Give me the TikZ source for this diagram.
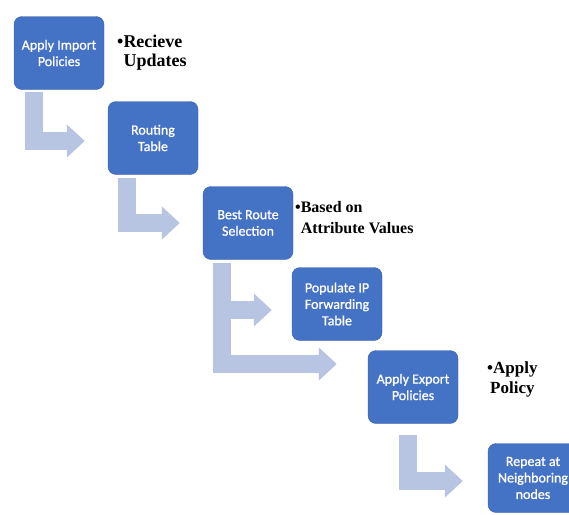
\documentclass[tikz,border=0pt]{standalone}
\usepackage{fontspec}
\setmainfont{Liberation Serif}
\newfontfamily\boxfont[FakeBold=1]{Carlito}
\usetikzlibrary{arrows.meta}

\definecolor{boxblue}{RGB}{68,114,196}
\definecolor{boxedge}{RGB}{58,98,172}
\definecolor{flowgray}{RGB}{184,197,226}

\tikzset{
  stage/.style={draw=boxedge, fill=boxblue, rounded corners=8pt,
    minimum width=90pt, minimum height=73pt, inner sep=2pt,
    text=white, align=center, font=\boxfont\fontsize{14}{16.5}\selectfont},
  flow/.style={draw=flowgray, line width=18pt,
    -{Triangle[width=32pt,length=18pt]}},
  note/.style={anchor=north west, inner sep=0pt, align=left}
}

\begin{document}
\begin{tikzpicture}[x=1pt,y=-1pt]
    \useasboundingbox (0,0) rectangle (569,514);
    \clip (0,0) rectangle (569,514);

    % Stages
    \foreach \n/\x/\y/\t in {imp/59/53/{Apply Import\\Policies},
        rt/153/138/{Routing\\Table}, best/248/223/{Best Route\\Selection},
        fib/337/304/{Populate IP\\Forwarding\\Table},
        exp/413/387/{Apply Export\\Policies}} {
      \node[stage] (\n) at (\x,\y) {\t};
    }
    \node[stage, minimum height=69pt] (nbr) at (533,478) {Repeat at\\Neighboring\\nodes};

    % Bent arrows between stages
    \foreach \a/\b/\dx/\gap/\dy/\s in {imp/rt/-25/2/-3/23, rt/best/-26/3/0/23,
        best/fib/-26/3/-6/20, best/exp/-26/3/23/31, exp/nbr/-5/11/-3/25} {
      \draw[flow, shorten >=\s pt] ([xshift=\dx pt, yshift=-\gap pt]\a.south) |- ([yshift=\dy pt]\b.west);
    }

    % Notes
    \node[note, font=\bfseries\fontsize{18}{18.5}\selectfont] (recv) at (117,35)
      {\textbullet Recieve\\\hphantom{\textbullet}Updates};
    \node[note, font=\bfseries\fontsize{16}{21.5}\selectfont] (attr) at (295,201)
      {\textbullet Based on\\\hphantom{\textbullet}Attribute Values};
    \node[note, align=center, font=\bfseries\fontsize{17}{20}\selectfont] (pol) at (487,361)
      {\textbullet Apply\\Policy};

\end{tikzpicture}
\end{document}
